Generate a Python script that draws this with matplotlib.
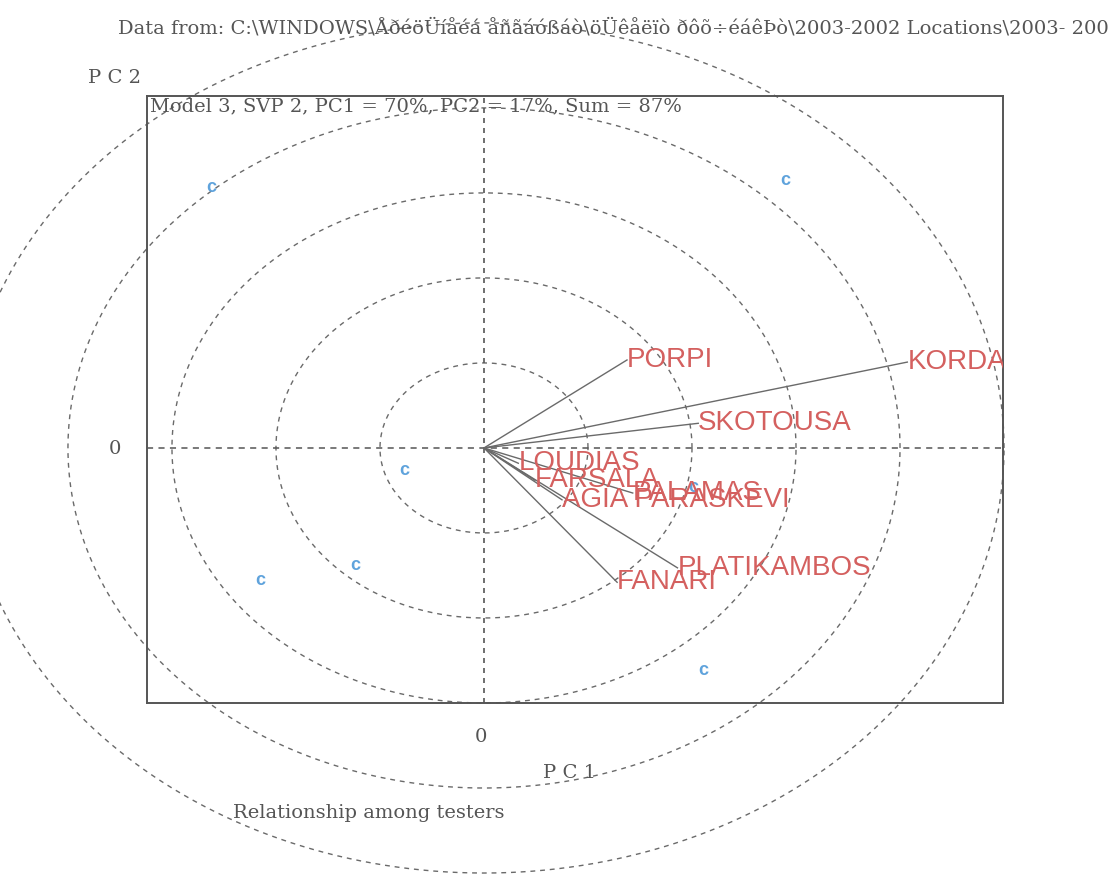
import numpy as np
import matplotlib
matplotlib.use("Agg")
import matplotlib.pyplot as plt

# ---- data ----
env_names = ["PORPI", "KORDA", "SKOTOUSA", "LOUDIAS", "FARSALA",
             "PALAMAS", "AGIA PARASKEVI", "PLATIKAMBOS", "FANARI"]
env_pc1 = [1.375, 4.07, 2.06, 0.33, 0.49, 1.43, 0.75, 1.86, 1.28]
env_pc2 = [1.035, 1.01, 0.29, -0.18, -0.38, -0.53, -0.61, -1.41, -1.58]

gen_labels = ["c", "c", "c", "c", "c", "c", "c"]
gen_pc1 = [-2.62, 2.90, -0.77, -2.15, -1.24, 2.11, 2.01]
gen_pc2 = [3.06, 3.15, -0.27, -1.56, -1.38, -2.62, -0.46]

circle_radii = [1, 2, 3, 4, 5]

title_text = ("Data from: C:\\WINDOWS\\ÅðéöÜíåéá åñãáóßáò\\öÜêåëïò ðôõ÷éáêÞò"
              "\\2003-2002 Locations\\2003- 200")
model_text = "Model 3, SVP 2, PC1 = 70%, PC2 = 17%, Sum = 87%"

# ---- figure ----
fig = plt.figure(figsize=(11.11, 8.83), dpi=100)
ax = fig.add_axes([147/1111, 1-703/883, (1003-147)/1111, (703-96)/883])
ax.set_xlim(-3.24, 4.99)
ax.set_ylim(-3.0, 4.14)
ax.set_xticks([]); ax.set_yticks([])
for s in ax.spines.values():
    s.set_color("#555555"); s.set_linewidth(1.4)

gray = "#555555"
serif = ["DejaVu Serif"]
fs = 14

# circles (extend outside axes)
t = np.linspace(0, 2*np.pi, 800)
for r in circle_radii:
    ax.plot(r*np.cos(t), r*np.sin(t), ls=(0, (3.5, 3.5)), color="#6a6a6a",
            lw=1.0, clip_on=False, zorder=1)

# axis cross lines
ax.axhline(0, ls=(0, (4, 3.5)), color="#555555", lw=1.1, zorder=1)
ax.axvline(0, ls=(0, (3, 3)), color="#555555", lw=1.2, zorder=1)

# genotypes
for lab, x, y in zip(gen_labels, gen_pc1, gen_pc2):
    ax.text(x, y, lab, color="#5fa3dc", fontsize=13, fontweight="bold",
            ha="center", va="center", family="Liberation Sans", zorder=2)

# environment vectors
for name, x, y in zip(env_names, env_pc1, env_pc2):
    ax.plot([0, x], [0, y], color="#6a6a6a", lw=1.0, zorder=3)
    ax.text(x, y, name, color="#d4605f", fontsize=20, ha="left", va="center",
            family="Liberation Sans", zorder=4, clip_on=True)

# texts
ax.text(0.003, 0.997, model_text, transform=ax.transAxes, ha="left", va="top",
        fontsize=fs, color=gray, family=serif)
fig.text(118/1111, 1-28/883, title_text, ha="left", va="center",
         fontsize=fs, color=gray, family=serif)
fig.text(88/1111, 1-78/883, "P C 2", ha="left", va="center",
         fontsize=fs, color=gray, family=serif)
fig.text(115/1111, 1-449/883, "0", ha="center", va="center",
         fontsize=fs, color=gray, family=serif)
fig.text(481/1111, 1-737/883, "0", ha="center", va="center",
         fontsize=fs, color=gray, family=serif)
fig.text(543/1111, 1-773/883, "P C 1", ha="left", va="center",
         fontsize=fs, color=gray, family=serif)
fig.text(233/1111, 1-813/883, "Relationship among testers", ha="left",
         va="center", fontsize=fs, color=gray, family=serif)

fig.savefig("out.png", dpi=100)
